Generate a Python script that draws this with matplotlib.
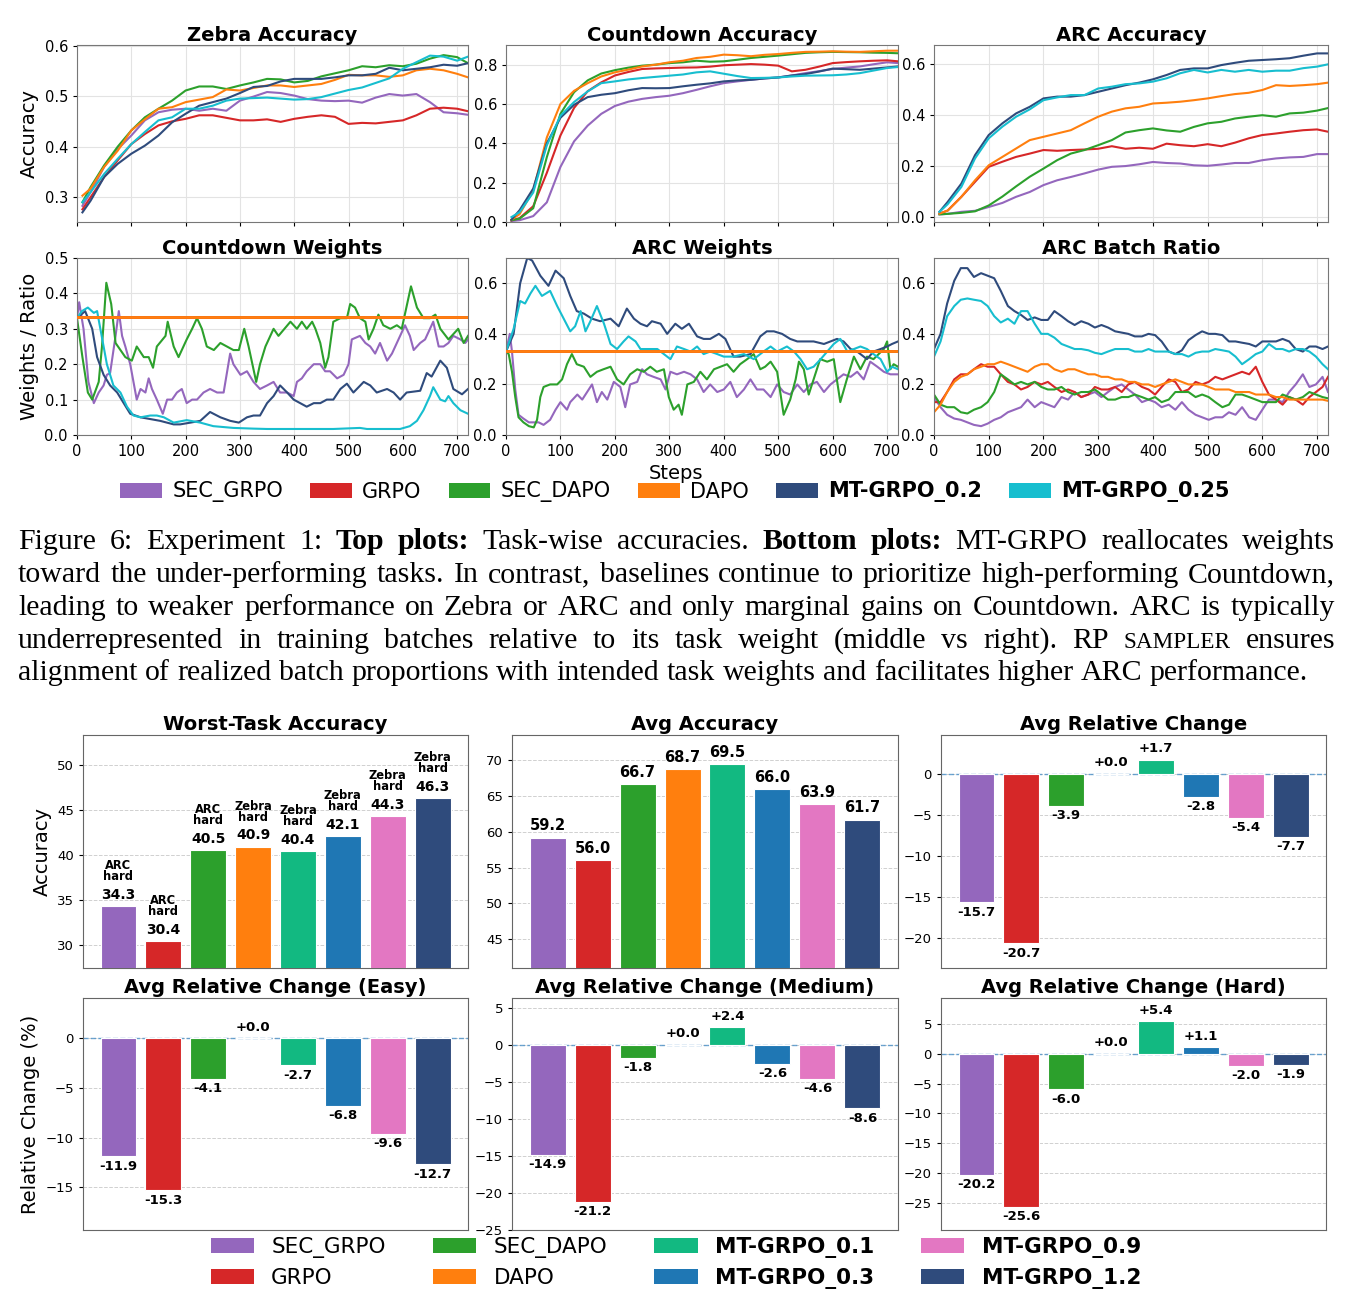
import matplotlib
matplotlib.use('Agg')
import matplotlib.pyplot as plt
from matplotlib.patches import Patch
from matplotlib.ticker import MultipleLocator, FormatStrFormatter

#------------------------------------------------------------------------------
# COLOURS
c_sec_grpo = '#9467bd'
c_grpo = '#d62728'
c_sec_dapo = '#2ca02c'
c_dapo = '#ff7f0e'
c_mt02 = '#2f4b7c'
c_mt025 = '#17becf'
c_mt01 = '#12b981'
c_mt03 = '#1f77b4'
c_mt09 = '#e377c2'
c_mt12 = '#2f4b7c'

#------------------------------------------------------------------------------
# TOP ROW: TASK ACCURACIES
acc_steps = [10, 25, 50, 75, 100, 125, 150, 175, 200, 225, 250, 275, 300, 325, 350,
             375, 400, 425, 450, 475, 500, 525, 550, 575, 600, 625, 650, 675, 700, 720]

z_sec_grpo = [.283, .31, .36, .395, .422, .452, .468, .473, .475, .471, .475, .471, .491, .499, .508,
              .506, .501, .494, .491, .490, .491, .487, .497, .504, .501, .504, .488, .468, .466, .463]
z_grpo = [.276, .30, .34, .373, .405, .425, .442, .45, .455, .462, .462, .457, .452, .452, .454,
          .449, .455, .459, .462, .459, .445, .447, .446, .449, .452, .462, .475, .477, .475, .47]
z_sec_dapo = [.29, .32, .363, .40, .432, .458, .475, .491, .511, .519, .519, .514, .521, .527, .534,
              .533, .527, .530, .539, .545, .551, .559, .557, .561, .559, .564, .574, .581, .577, .565]
z_dapo = [.303, .317, .36, .392, .432, .454, .475, .478, .488, .493, .498, .513, .511, .516, .521,
          .521, .518, .521, .524, .532, .542, .541, .541, .538, .541, .551, .554, .551, .544, .537]
z_mt02 = [.27, .293, .34, .366, .386, .402, .422, .448, .465, .481, .488, .495, .506, .518, .52,
          .529, .534, .534, .534, .537, .541, .541, .544, .556, .551, .554, .557, .562, .56, .565]
z_mt025 = [.29, .31, .346, .376, .405, .429, .452, .458, .475, .475, .481, .491, .495, .496, .497,
           .495, .493, .494, .498, .505, .512, .517, .526, .535, .554, .567, .58, .578, .57, .578]

cd_sec_grpo = [.005, .009, .03, .10, .28, .41, .49, .55, .59, .612, .626, .635, .642, .655, .672,
               .69, .706, .715, .723, .73, .735, .745, .757, .767, .778, .785, .791, .802, .812, .808]
cd_grpo = [.008, .02, .08, .25, .44, .58, .665, .71, .745, .763, .778, .781, .783, .785, .786,
           .79, .797, .80, .803, .80, .795, .766, .774, .79, .808, .813, .817, .82, .822, .817]
cd_sec_dapo = [.009, .017, .07, .33, .55, .66, .72, .755, .772, .785, .795, .80, .808, .812, .82,
               .815, .817, .825, .834, .84, .846, .853, .86, .863, .865, .864, .863, .861, .86, .858]
cd_dapo = [.012, .04, .16, .43, .60, .667, .706, .74, .761, .775, .791, .80, .812, .82, .834,
           .84, .851, .848, .843, .85, .854, .86, .865, .866, .868, .866, .865, .868, .871, .871]
cd_mt02 = [.012, .06, .17, .40, .53, .596, .635, .647, .655, .67, .681, .68, .681, .69, .698,
           .705, .715, .72, .723, .73, .735, .745, .752, .765, .78, .777, .774, .78, .786, .791]
cd_mt025 = [.025, .05, .15, .39, .54, .61, .664, .706, .715, .725, .732, .738, .744, .75, .761,
            .766, .754, .742, .732, .733, .735, .74, .744, .745, .746, .75, .757, .77, .783, .788]

arc_sec_grpo = [.01, .012, .02, .024, .039, .055, .079, .098, .125, .144, .157, .171, .186, .197, .20,
                .207, .216, .212, .21, .203, .201, .206, .212, .212, .223, .23, .234, .236, .247, .247]
arc_grpo = [.013, .025, .079, .138, .197, .217, .236, .249, .263, .26, .263, .265, .268, .278, .268,
            .272, .268, .288, .282, .278, .286, .278, .292, .309, .322, .328, .335, .341, .344, .335]
arc_sec_dapo = [.01, .012, .016, .022, .045, .08, .12, .158, .19, .223, .249, .263, .282, .302, .332,
                .341, .348, .34, .335, .354, .368, .374, .387, .394, .40, .394, .407, .41, .418, .428]
arc_dapo = [.013, .025, .079, .144, .203, .236, .269, .302, .315, .328, .341, .368, .394, .414, .427,
            .433, .446, .449, .453, .459, .466, .475, .483, .488, .499, .518, .515, .518, .522, .528]
arc_mt02 = [.02, .059, .131, .243, .322, .368, .407, .433, .466, .473, .473, .479, .492, .505, .518,
            .528, .541, .558, .578, .584, .584, .597, .606, .614, .617, .620, .624, .634, .643, .643]
arc_mt025 = [.02, .05, .118, .23, .309, .355, .394, .423, .459, .47, .479, .479, .505, .512, .522,
             .525, .532, .545, .565, .578, .568, .578, .571, .578, .571, .575, .575, .585, .591, .60]

#------------------------------------------------------------------------------
# BOTTOM ROW: WEIGHTS AND BATCH RATIO (vertices)
uniform_x = [0, 720]
uniform_w = [0.333, 0.333]   # GRPO / DAPO keep 1/3 for every task

cw_sec_grpo_x = [0, 4, 12, 21, 31, 40, 49, 55, 61, 71, 77, 83, 89, 98, 104, 110, 117, 126, 132, 138,
                 147, 158, 166, 175, 184, 193, 202, 212, 221, 233, 245, 258, 270, 282, 288, 301, 313, 325, 337, 350,
                 362, 374, 387, 399, 405, 414, 423, 436, 448, 457, 466, 479, 491, 500, 506, 521, 531, 540, 549, 558,
                 571, 580, 592, 604, 613, 620, 632, 641, 650, 656, 666, 675, 684, 693, 706, 715, 720]
cw_sec_grpo = [.33, .375, .30, .15, .09, .12, .14, .17, .175, .28, .35, .28, .25, .20, .15, .10, .13, .12, .16, .13,
               .10, .06, .10, .10, .12, .13, .09, .10, .10, .12, .13, .12, .12, .23, .20, .17, .18, .15, .13, .14,
               .15, .12, .12, .11, .15, .16, .18, .20, .20, .18, .18, .16, .17, .20, .27, .28, .26, .25, .23, .26,
               .21, .23, .27, .31, .28, .24, .26, .27, .30, .32, .25, .25, .26, .28, .27, .26, .27]
cw_sec_dapo_x = [0, 10, 20, 28, 40, 46, 54, 63, 71, 89, 101, 110, 123, 132, 140, 147, 163, 167, 178, 187,
                 202, 212, 221, 230, 239, 252, 264, 276, 288, 298, 308, 316, 330, 337, 347, 362, 371, 393, 405, 414,
                 423, 433, 439, 448, 457, 463, 472, 485, 497, 503, 512, 521, 531, 537, 546, 555, 564, 577, 589, 598,
                 615, 626, 638, 650, 660, 669, 684, 702, 712, 720]
cw_sec_dapo = [.33, .22, .12, .10, .15, .25, .43, .37, .26, .22, .21, .25, .22, .22, .19, .25, .28, .32, .25, .22,
               .27, .30, .33, .30, .25, .24, .26, .25, .24, .24, .30, .25, .15, .20, .25, .30, .28, .32, .30, .32,
               .30, .32, .30, .26, .19, .22, .32, .33, .33, .37, .36, .33, .32, .27, .30, .34, .31, .30, .31, .30,
               .42, .36, .33, .33, .34, .30, .27, .30, .26, .28]
cw_mt02_x = [0, 15, 28, 37, 49, 61, 74, 86, 98, 117, 135, 153, 178, 190, 209, 227, 245, 264, 282, 298,
             313, 325, 337, 350, 362, 374, 387, 399, 411, 423, 436, 448, 460, 472, 485, 497, 509, 528, 540, 552,
             571, 583, 595, 607, 632, 644, 653, 669, 681, 693, 709, 720]
cw_mt02 = [.33, .35, .30, .22, .17, .14, .12, .09, .06, .05, .045, .04, .03, .03, .035, .04, .065, .05, .04, .035,
           .05, .055, .055, .09, .11, .14, .12, .10, .09, .08, .09, .09, .10, .10, .13, .145, .12, .15, .14, .12,
           .13, .12, .10, .12, .125, .175, .165, .21, .19, .13, .115, .13]
cw_mt025_x = [0, 9, 20, 31, 37, 43, 55, 67, 80, 92, 104, 117, 135, 147, 160, 178, 202, 227, 251, 288,
              325, 350, 411, 472, 521, 534, 595, 613, 626, 638, 650, 656, 669, 678, 684, 693, 706, 720]
cw_mt025 = [.33, .35, .36, .345, .35, .30, .20, .14, .12, .08, .055, .05, .055, .055, .05, .035, .042, .035, .025, .02,
            .018, .017, .017, .017, .02, .017, .017, .025, .04, .07, .11, .135, .10, .095, .11, .09, .07, .06]

aw_sec_grpo_x = [0, 7, 11, 17, 23, 32, 42, 51, 60, 69, 81, 91, 100, 112, 118, 131, 140, 149, 158, 167,
                 176, 186, 198, 210, 219, 228, 241, 250, 259, 271, 284, 293, 302, 314, 327, 339, 351, 363, 375, 388,
                 400, 412, 424, 437, 449, 461, 473, 486, 498, 510, 522, 535, 547, 559, 571, 584, 596, 608, 620, 633,
                 645, 657, 669, 682, 694, 706, 720]
aw_sec_grpo = [.33, .40, .33, .18, .08, .065, .05, .05, .05, .04, .06, .10, .13, .10, .13, .16, .14, .17, .20, .13,
               .17, .14, .21, .19, .11, .20, .21, .26, .24, .23, .22, .18, .25, .24, .25, .24, .22, .17, .20, .17,
               .18, .21, .15, .18, .22, .18, .18, .15, .20, .17, .16, .20, .17, .20, .21, .17, .20, .22, .24, .23,
               .25, .22, .29, .27, .25, .24, .24]
aw_sec_dapo_x = [0, 5, 11, 17, 23, 32, 42, 51, 57, 63, 69, 81, 94, 103, 112, 121, 130, 143, 155, 167,
                 179, 192, 204, 216, 228, 241, 253, 265, 277, 290, 299, 308, 317, 323, 333, 345, 357, 369, 382, 394,
                 406, 418, 430, 443, 455, 467, 476, 486, 498, 510, 522, 532, 538, 547, 556, 565, 577, 590, 602, 614,
                 626, 639, 651, 663, 675, 694, 700, 706, 712, 720]
aw_sec_dapo = [.33, .32, .25, .15, .07, .05, .035, .03, .06, .15, .19, .20, .20, .22, .28, .32, .28, .27, .23, .25,
               .26, .27, .22, .20, .24, .26, .25, .27, .25, .26, .15, .10, .12, .08, .20, .21, .25, .22, .26, .27,
               .28, .25, .28, .30, .32, .26, .27, .29, .25, .08, .14, .22, .29, .26, .16, .22, .30, .29, .30, .13,
               .22, .31, .26, .31, .30, .34, .37, .26, .28, .27]
aw_mt02_x = [0, 14, 26, 39, 48, 63, 78, 91, 106, 118, 130, 143, 158, 173, 192, 207, 222, 235, 247, 259,
             268, 284, 296, 311, 323, 336, 351, 363, 375, 391, 403, 418, 430, 449, 467, 479, 492, 507, 522, 535,
             547, 565, 584, 596, 608, 620, 633, 645, 663, 675, 688, 700, 709, 720]
aw_mt02 = [.33, .40, .60, .70, .69, .63, .59, .65, .62, .55, .49, .48, .46, .45, .46, .43, .50, .46, .44, .43,
           .45, .44, .40, .44, .42, .44, .39, .38, .38, .40, .38, .31, .31, .32, .39, .41, .41, .40, .38, .37,
           .37, .37, .36, .37, .38, .37, .34, .33, .30, .33, .34, .35, .36, .37]
aw_mt025_x = [0, 14, 26, 35, 45, 54, 66, 81, 94, 106, 118, 127, 137, 146, 155, 167, 180, 192, 204, 216,
              225, 238, 247, 259, 278, 290, 302, 314, 327, 339, 351, 363, 375, 388, 400, 418, 437, 455, 473, 486,
              498, 516, 529, 541, 553, 565, 578, 590, 602, 614, 627, 639, 651, 663, 675, 688, 700, 709, 720]
aw_mt025 = [.33, .42, .53, .52, .56, .59, .55, .57, .51, .46, .41, .43, .49, .41, .45, .51, .44, .36, .34, .37,
            .39, .37, .34, .34, .34, .32, .30, .35, .34, .33, .35, .32, .33, .32, .31, .31, .32, .30, .33, .35,
            .33, .35, .33, .30, .26, .27, .30, .33, .36, .38, .33, .34, .35, .34, .32, .30, .25, .27, .26]

br_steps = [0, 12, 24, 37, 49, 61, 73, 86, 98, 110, 122, 135, 147, 159, 171, 184, 196, 208, 220, 233,
            245, 257, 269, 282, 294, 306, 318, 331, 343, 355, 367, 380, 392, 404, 416, 429, 441, 453, 465, 478,
            490, 502, 514, 527, 539, 551, 563, 576, 588, 600, 612, 625, 637, 649, 661, 674, 686, 698, 710, 720]
br_sec_grpo = [.15, .11, .08, .065, .06, .05, .04, .035, .045, .06, .07, .09, .10, .11, .14, .11, .13, .12, .11, .15,
               .14, .17, .15, .16, .17, .15, .17, .19, .20, .18, .16, .13, .14, .13, .11, .12, .10, .13, .10, .08,
               .07, .06, .07, .07, .09, .08, .11, .07, .06, .10, .14, .14, .13, .17, .20, .24, .19, .20, .23, .17]
br_grpo = [.13, .13, .17, .22, .24, .24, .26, .28, .27, .27, .24, .21, .20, .18, .19, .21, .20, .21, .19, .17,
           .18, .17, .15, .16, .19, .18, .18, .19, .17, .20, .21, .19, .18, .16, .19, .22, .21, .17, .18, .21,
           .20, .21, .23, .22, .23, .24, .25, .24, .27, .21, .16, .14, .12, .15, .14, .12, .15, .17, .19, .23]
br_sec_dapo = [.16, .12, .11, .11, .09, .085, .10, .11, .13, .17, .24, .22, .20, .21, .20, .21, .19, .18, .18, .19,
               .17, .16, .17, .17, .18, .16, .14, .14, .15, .15, .16, .15, .14, .15, .13, .14, .17, .17, .17, .15,
               .16, .15, .13, .11, .12, .16, .16, .15, .14, .13, .13, .13, .16, .15, .14, .15, .17, .16, .15, .145]
br_dapo = [.09, .12, .17, .21, .23, .24, .26, .27, .28, .28, .29, .28, .27, .26, .25, .27, .28, .28, .26, .25,
           .26, .26, .25, .24, .24, .23, .23, .22, .22, .21, .21, .20, .20, .19, .20, .21, .22, .21, .20, .20,
           .20, .19, .18, .18, .18, .17, .17, .17, .16, .16, .16, .15, .15, .14, .14, .14, .14, .14, .14, .135]
br_mt02 = [.34, .40, .52, .61, .66, .66, .625, .64, .63, .62, .57, .51, .49, .475, .455, .465, .455, .455, .49, .47,
           .45, .435, .45, .44, .425, .435, .425, .41, .405, .40, .39, .39, .40, .395, .37, .33, .32, .335, .375, .395,
           .41, .40, .40, .395, .37, .37, .365, .36, .35, .37, .37, .37, .38, .37, .34, .33, .35, .35, .34, .35]
br_mt025 = [.31, .37, .47, .51, .535, .54, .535, .53, .51, .47, .445, .46, .44, .49, .49, .44, .40, .40, .385, .36,
            .35, .34, .34, .335, .325, .32, .33, .34, .34, .34, .33, .33, .34, .33, .33, .33, .32, .32, .31, .325,
            .33, .33, .34, .335, .33, .31, .28, .30, .32, .33, .36, .34, .34, .33, .34, .34, .33, .31, .28, .26]

#------------------------------------------------------------------------------
# BAR CHARTS
bar_methods = ['SEC_GRPO', 'GRPO', 'SEC_DAPO', 'DAPO', 'MT-GRPO_0.1', 'MT-GRPO_0.3', 'MT-GRPO_0.9', 'MT-GRPO_1.2']
worst_acc = [34.3, 30.4, 40.5, 40.9, 40.4, 42.1, 44.3, 46.3]
worst_task = ['ARC\nhard', 'ARC\nhard', 'ARC\nhard', 'Zebra\nhard', 'Zebra\nhard', 'Zebra\nhard', 'Zebra\nhard', 'Zebra\nhard']
avg_acc = [59.2, 56.0, 66.7, 68.7, 69.5, 66.0, 63.9, 61.7]
avg_rel = [-15.7, -20.7, -3.9, 0.0, 1.7, -2.8, -5.4, -7.7]
rel_easy = [-11.9, -15.3, -4.1, 0.0, -2.7, -6.8, -9.6, -12.7]
rel_medium = [-14.9, -21.2, -1.8, 0.0, 2.4, -2.6, -4.6, -8.6]
rel_hard = [-20.2, -25.6, -6.0, 0.0, 5.4, 1.1, -2.0, -1.9]

caption_lines = [
    'Figure 6: Experiment 1: *Top *plots: Task-wise accuracies. *Bottom *plots: MT-GRPO reallocates weights',
    'toward the under-performing tasks. In contrast, baselines continue to prioritize high-performing Countdown,',
    'leading to weaker performance on Zebra or ARC and only marginal gains on Countdown. ARC is typically',
    'underrepresented in training batches relative to its task weight (middle vs right). RP ^SAMPLER ensures',
    'alignment of realized batch proportions with intended task weights and facilitates higher ARC performance.',
]

#------------------------------------------------------------------------------
W, H = 1354.0, 1309.0
fig = plt.figure(figsize=(13.54, 13.09), dpi=100)


def add_ax(x0, y0, x1, y1):
    # pixel box -> figure fraction
    return fig.add_axes([x0 / W, 1 - y1 / H, (x1 - x0) / W, (y1 - y0) / H])


def style_line_ax(ax, title, ylim, ystep, labelx):
    ax.set_title(title, fontsize=14, fontweight='bold', pad=2.5)
    ax.set_xlim(0, 720)
    ax.set_ylim(*ylim)
    ax.set_xticks(range(0, 701, 100))
    ax.yaxis.set_major_locator(MultipleLocator(ystep))
    ax.yaxis.set_major_formatter(FormatStrFormatter('%.1f'))
    ax.grid(True, color='#e3e3e3', lw=0.8)
    ax.set_axisbelow(True)
    ax.tick_params(labelsize=10.5, length=3)
    if not labelx:
        ax.tick_params(labelbottom=False)
    for s in ax.spines.values():
        s.set_color('#777777')


lw = 1.5
# Top row
ax = add_ax(77, 45, 468, 222)
for ys, c in [(z_sec_grpo, c_sec_grpo), (z_grpo, c_grpo), (z_sec_dapo, c_sec_dapo),
              (z_dapo, c_dapo), (z_mt02, c_mt02), (z_mt025, c_mt025)]:
    ax.plot(acc_steps, ys, color=c, lw=lw)
style_line_ax(ax, 'Zebra Accuracy', (0.251, 0.601), 0.1, False)
ax.set_ylabel('Accuracy', fontsize=14)

ax = add_ax(506, 45, 898, 222)
for ys, c in [(cd_sec_grpo, c_sec_grpo), (cd_grpo, c_grpo), (cd_sec_dapo, c_sec_dapo),
              (cd_dapo, c_dapo), (cd_mt02, c_mt02), (cd_mt025, c_mt025)]:
    ax.plot(acc_steps, ys, color=c, lw=lw)
style_line_ax(ax, 'Countdown Accuracy', (0.0, 0.9), 0.2, False)

ax = add_ax(934, 45, 1328, 222)
for ys, c in [(arc_sec_grpo, c_sec_grpo), (arc_grpo, c_grpo), (arc_sec_dapo, c_sec_dapo),
              (arc_dapo, c_dapo), (arc_mt02, c_mt02), (arc_mt025, c_mt025)]:
    ax.plot(acc_steps, ys, color=c, lw=lw)
style_line_ax(ax, 'ARC Accuracy', (-0.02, 0.676), 0.2, False)

# Second row
ax = add_ax(77, 258, 468, 435)
ax.plot(cw_sec_grpo_x, cw_sec_grpo, color=c_sec_grpo, lw=lw)
ax.plot(cw_sec_dapo_x, cw_sec_dapo, color=c_sec_dapo, lw=lw)
ax.plot(cw_mt02_x, cw_mt02, color=c_mt02, lw=lw)
ax.plot(cw_mt025_x, cw_mt025, color=c_mt025, lw=lw)
ax.plot(uniform_x, uniform_w, color=c_grpo, lw=2, zorder=4)
ax.plot(uniform_x, uniform_w, color=c_dapo, lw=2, zorder=5)
style_line_ax(ax, 'Countdown Weights', (0, 0.5), 0.1, True)
ax.set_ylabel('Weights / Ratio', fontsize=14)

ax = add_ax(506, 258, 898, 435)
ax.plot(aw_sec_grpo_x, aw_sec_grpo, color=c_sec_grpo, lw=lw)
ax.plot(aw_sec_dapo_x, aw_sec_dapo, color=c_sec_dapo, lw=lw)
ax.plot(aw_mt02_x, aw_mt02, color=c_mt02, lw=lw)
ax.plot(aw_mt025_x, aw_mt025, color=c_mt025, lw=lw)
ax.plot(uniform_x, uniform_w, color=c_grpo, lw=2, zorder=4)
ax.plot(uniform_x, uniform_w, color=c_dapo, lw=2, zorder=5)
style_line_ax(ax, 'ARC Weights', (0, 0.7), 0.2, True)

ax = add_ax(934, 258, 1328, 435)
for ys, c in [(br_sec_grpo, c_sec_grpo), (br_grpo, c_grpo), (br_sec_dapo, c_sec_dapo),
              (br_dapo, c_dapo), (br_mt02, c_mt02), (br_mt025, c_mt025)]:
    ax.plot(br_steps, ys, color=c, lw=lw)
style_line_ax(ax, 'ARC Batch Ratio', (0, 0.7), 0.2, True)

fig.text(676 / W, 1 - 473 / H, 'Steps', fontsize=14, ha='center', va='center')

top_names = ['SEC_GRPO', 'GRPO', 'SEC_DAPO', 'DAPO', 'MT-GRPO_0.2', 'MT-GRPO_0.25']
top_cols = [c_sec_grpo, c_grpo, c_sec_dapo, c_dapo, c_mt02, c_mt025]
leg = fig.legend([Patch(facecolor=c) for c in top_cols], top_names, loc='center',
                 bbox_to_anchor=(675 / W, 1 - 492 / H), ncol=6, fontsize=15, frameon=False,
                 handlelength=2.0, handletextpad=0.5, columnspacing=1.3)
for t in leg.get_texts():
    if t.get_text().startswith('MT-'):
        t.set_fontweight('bold')

#------------------------------------------------------------------------------
# CAPTION (justified, Times-like)
cap_font = 'Liberation Serif'
cap_x0, cap_x1 = 18.0, 1335.0
cap_base = [549, 582, 615, 648, 680]
renderer = fig.canvas.get_renderer()


def make_words(line, fs):
    out = []
    for w in line.split(' '):
        weight, size = 'normal', fs
        if w.startswith('*'):
            w, weight = w[1:], 'bold'
        elif w.startswith('^'):
            w, size = w[1:], fs * 0.78
        out.append(fig.text(0, 0, w, fontsize=size, fontweight=weight, family=cap_font, va='baseline'))
    return out


# size the font so that the last (ragged) line has its natural width
probe = make_words(caption_lines[-1], 20)
natural = sum(t.get_window_extent(renderer).width for t in probe) + 0.25 * 20 * 100 / 72 * (len(probe) - 1)
for t in probe:
    t.remove()
cap_fs = 20 * (1290.0 / natural)
space = 0.25 * cap_fs * 100 / 72

for i, line in enumerate(caption_lines):
    words = make_words(line, cap_fs)
    widths = [t.get_window_extent(renderer).width for t in words]
    if i < len(caption_lines) - 1:
        gap = (cap_x1 - cap_x0 - sum(widths)) / (len(words) - 1)
    else:
        gap = space
    x = cap_x0
    for t, wd in zip(words, widths):
        t.set_position((x / W, 1 - cap_base[i] / H))
        x += wd + gap

#------------------------------------------------------------------------------
# BAR CHARTS
bar_cols = [c_sec_grpo, c_grpo, c_sec_dapo, c_dapo, c_mt01, c_mt03, c_mt09, c_mt12]
xpos = list(range(len(bar_methods)))


def style_bar_ax(ax, title, ylim):
    ax.set_title(title, fontsize=14, fontweight='bold', pad=3.5)
    ax.set_ylim(*ylim)
    ax.set_xticks([])
    ax.yaxis.set_major_locator(MultipleLocator(5))
    ax.grid(True, axis='y', ls='--', color='#d0d0d0', lw=0.7)
    ax.set_axisbelow(True)
    ax.tick_params(labelsize=9.5, length=3)
    for s in ax.spines.values():
        s.set_color('#666666')


def rel_panel(ax, vals, title, ylim):
    ax.bar(xpos, vals, width=0.8, color=bar_cols, edgecolor='white', linewidth=0.8, zorder=3)
    ax.axhline(0, ls='--', color='#4a90c8', lw=1, alpha=0.8, zorder=2)
    for i, v in enumerate(vals):
        if v >= 0:
            ax.annotate(f'{v:+.1f}', (i, v), xytext=(0, 3), textcoords='offset points',
                        ha='center', va='bottom', fontsize=9.5, fontweight='bold')
        else:
            ax.annotate(f'{v:+.1f}', (i, v), xytext=(0, -2.5), textcoords='offset points',
                        ha='center', va='top', fontsize=9.5, fontweight='bold')
    style_bar_ax(ax, title, ylim)


ax = add_ax(83, 735, 468, 968)
ax.bar(xpos, worst_acc, width=0.8, color=bar_cols, edgecolor='white', linewidth=0.8, zorder=3)
for i, v in enumerate(worst_acc):
    ax.annotate(f'{v:.1f}', (i, v), xytext=(0, 3), textcoords='offset points',
                ha='center', va='bottom', fontsize=10, fontweight='bold')
    ax.annotate(worst_task[i], (i, v), xytext=(0, 16.5), textcoords='offset points',
                ha='center', va='bottom', fontsize=8.3, fontweight='bold', linespacing=0.8)
style_bar_ax(ax, 'Worst-Task Accuracy', (27.4, 53.3))
ax.set_ylabel('Accuracy', fontsize=14)

ax = add_ax(512, 735, 898, 968)
ax.bar(xpos, avg_acc, width=0.8, color=bar_cols, edgecolor='white', linewidth=0.8, zorder=3)
for i, v in enumerate(avg_acc):
    ax.annotate(f'{v:.1f}', (i, v), xytext=(0, 3), textcoords='offset points',
                ha='center', va='bottom', fontsize=10.5, fontweight='bold')
style_bar_ax(ax, 'Avg Accuracy', (41.0, 73.5))

rel_panel(add_ax(941, 735, 1326, 968), avg_rel, 'Avg Relative Change', (-23.7, 4.7))
ax = add_ax(83, 998, 468, 1230)
rel_panel(ax, rel_easy, 'Avg Relative Change (Easy)', (-19.3, 4.05))
ax.set_ylabel('Relative Change (%)', fontsize=14)
rel_panel(add_ax(512, 998, 898, 1230), rel_medium, 'Avg Relative Change (Medium)', (-25.05, 6.3))
rel_panel(add_ax(941, 998, 1326, 1230), rel_hard, 'Avg Relative Change (Hard)', (-29.45, 9.27))

leg2 = fig.legend([Patch(facecolor=c) for c in bar_cols], bar_methods, loc='center',
                  bbox_to_anchor=(676 / W, 1 - 1263 / H), ncol=4, fontsize=15.5, frameon=False,
                  labelspacing=0.45, columnspacing=2.2)
for t in leg2.get_texts():
    if t.get_text().startswith('MT-'):
        t.set_fontweight('bold')

fig.savefig('out.png', dpi=100)
